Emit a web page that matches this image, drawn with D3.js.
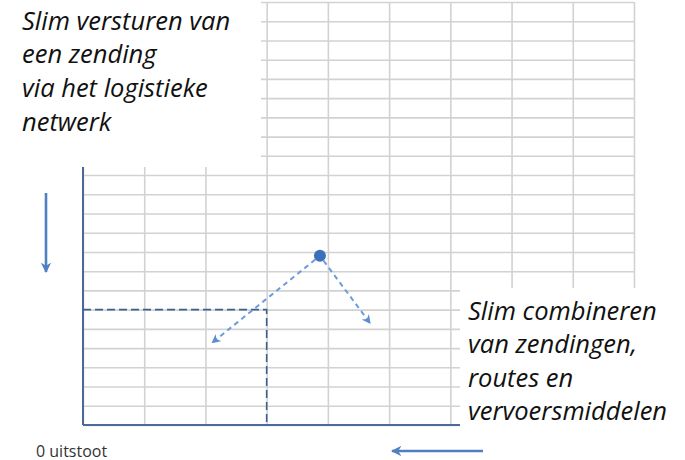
<!DOCTYPE html>
<html>
<head>
<meta charset="utf-8">
<script src="https://cdn.jsdelivr.net/npm/d3@7"></script>
<style>
  body { margin: 0; background: #fff; }
  svg { display: block; }
  .lbl { font-family: "Open Sans", Lato, sans-serif; fill: #111; }
</style>
</head>
<body>
<svg id="chart" width="685" height="460"></svg>
<script>
// grid positions (in grid units: 9 columns, 22 rows)
const xGrid = [0, 1, 2, 3, 4, 5, 6, 7, 8, 9];
const yGrid = d3.range(0, 23);

// the shipment point and where it can go
const shipment = [3.87, 8.8];
const arrowTips = [[2.11, 4.28], [4.69, 5.29]];
const reference = [3, 6];   // dashed cross to the axes

const topText = ["Slim versturen van", "een zending", "via het logistieke", "netwerk"];
const bottomText = ["Slim combineren", "van zendingen,", "routes en", "vervoersmiddelen"];
const originLabel = "0 uitstoot";

const svg = d3.select("#chart");
const width = 685, height = 460;

const x = d3.scaleLinear().domain([0, 9]).range([83, 634]);
const y = d3.scaleLinear().domain([0, 22]).range([425, 2]);

const gridColor = "#d2d2d2";
const axisColor = "#4b6a9b";
const arrowColor = "#4f81c2";

// gridlines
const gx = svg.append("g")
  .attr("transform", `translate(0,${y(0)})`)
  .call(d3.axisBottom(x).tickValues(xGrid).tickSize(-(y(0) - y(22))).tickFormat(""));
const gy = svg.append("g")
  .attr("transform", `translate(${x(0)},0)`)
  .call(d3.axisLeft(y).tickValues(yGrid).tickSize(-(x(9) - x(0))).tickFormat(""));
[gx, gy].forEach(g => {
  g.select(".domain").remove();
  g.selectAll(".tick line").attr("stroke", gridColor).attr("stroke-width", 1.6);
});

// axes (left + bottom)
svg.append("line")
  .attr("x1", x(0)).attr("x2", x(0))
  .attr("y1", y(22)).attr("y2", y(0))
  .attr("stroke", axisColor).attr("stroke-width", 2);
svg.append("line")
  .attr("x1", x(0)).attr("x2", x(9))
  .attr("y1", y(0)).attr("y2", y(0))
  .attr("stroke", axisColor).attr("stroke-width", 2);

// text boxes cover the grid
svg.append("rect").attr("x", 0).attr("y", 0).attr("width", 261).attr("height", 167).attr("fill", "#fff");
svg.append("rect").attr("x", 460).attr("y", 288).attr("width", width - 460).attr("height", height - 288).attr("fill", "#fff");

svg.append("text").attr("class", "lbl")
  .attr("font-style", "italic").attr("font-size", 25.5).attr("font-weight", 500)
  .selectAll("tspan").data(topText).join("tspan")
  .attr("x", 22).attr("y", (d, i) => 29.5 + i * 33.7)
  .text(d => d);

svg.append("text").attr("class", "lbl")
  .attr("font-style", "italic").attr("font-size", 25.5).attr("font-weight", 500)
  .selectAll("tspan").data(bottomText).join("tspan")
  .attr("x", 468).attr("y", (d, i) => 320 + i * 33.4)
  .text(d => d);

svg.append("text").attr("class", "lbl")
  .attr("x", 36).attr("y", 456.5)
  .attr("font-size", 16).style("fill", "#333")
  .text(originLabel);

// markers
const defs = svg.append("defs");
defs.append("marker")
  .attr("id", "head").attr("viewBox", "0 0 10 10")
  .attr("refX", 9).attr("refY", 5)
  .attr("markerWidth", 4.5).attr("markerHeight", 4.5)
  .attr("markerUnits", "strokeWidth")
  .attr("orient", "auto")
  .append("path").attr("d", "M0,0L10,5L0,10L3,5Z").attr("fill", "#5b8dd0");
defs.append("marker")
  .attr("id", "bigHead").attr("viewBox", "0 0 10 10")
  .attr("refX", 9).attr("refY", 5)
  .attr("markerWidth", 4).attr("markerHeight", 4)
  .attr("markerUnits", "strokeWidth")
  .attr("orient", "auto")
  .append("path").attr("d", "M0,0L10,5L0,10L3,5Z").attr("fill", arrowColor);

// dashed reference cross
svg.append("path")
  .attr("d", d3.line()([[x(0), y(reference[1])], [x(reference[0]), y(reference[1])], [x(reference[0]), y(0)]]))
  .attr("fill", "none")
  .attr("stroke", "#3a5f91").attr("stroke-width", 1.6)
  .attr("stroke-dasharray", "8,4");

// dashed arrows from the shipment
const r = 6;
arrowTips.forEach(t => {
  const x0 = x(shipment[0]), y0 = y(shipment[1]);
  const x1 = x(t[0]), y1 = y(t[1]);
  const len = Math.hypot(x1 - x0, y1 - y0);
  svg.append("line")
    .attr("x1", x0 + (x1 - x0) / len * r).attr("y1", y0 + (y1 - y0) / len * r)
    .attr("x2", x1).attr("y2", y1)
    .attr("stroke", "#6b9bd9").attr("stroke-width", 2)
    .attr("stroke-dasharray", "5,4")
    .attr("marker-end", "url(#head)");
});

svg.append("circle")
  .attr("cx", x(shipment[0])).attr("cy", y(shipment[1]))
  .attr("r", r).attr("fill", "#3d70ba");

// direction arrows
svg.append("line")
  .attr("x1", 46).attr("y1", 193).attr("x2", 46).attr("y2", 272)
  .attr("stroke", arrowColor).attr("stroke-width", 2.6)
  .attr("marker-end", "url(#bigHead)");
svg.append("line")
  .attr("x1", 483).attr("y1", 451).attr("x2", 392).attr("y2", 451)
  .attr("stroke", arrowColor).attr("stroke-width", 2.6)
  .attr("marker-end", "url(#bigHead)");
</script>
</body>
</html>
